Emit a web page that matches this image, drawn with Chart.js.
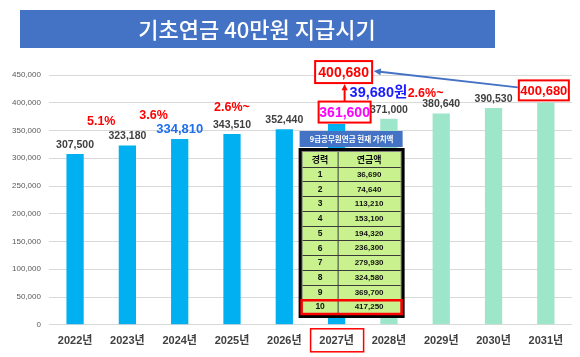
<!DOCTYPE html>
<html><head><meta charset="utf-8">
<script src="https://cdn.jsdelivr.net/npm/chart.js@4/dist/chart.umd.min.js"></script>
<style>html,body{margin:0;padding:0;background:#fff}#wrap{width:580px;height:357px;position:relative}</style>
</head><body><div id="wrap"><canvas id="c" width="580" height="357"></canvas></div>
<script>
// ---- data ----
const years = ['2022년','2023년','2024년','2025년','2026년','2027년','2028년','2029년','2030년','2031년'];
const amounts = [307500, 323180, 334810, 343510, 352440, 361600, 371000, 380640, 390530, 400680];
const rateLabels = ['5.1%', '3.6%', '2.6%~', '2.6%~'];
const targetAmount = 400680;
const gapLabel = '39,680원';
const tableTitle = '9급공무원연금 현재 가치액';
const tableHead = ['경력', '연금액'];
const careerYears = [1,2,3,4,5,6,7,8,9,10];
const careerPension = [36690, 74640, 113210, 153100, 194320, 236300, 279930, 324580, 369700, 417250];
const yTicks = [0,50000,100000,150000,200000,250000,300000,350000,400000,450000];

const fmt = v => v.toLocaleString('en-US');
const LAT = '"Liberation Sans", "Noto Sans CJK KR", sans-serif';
const KR = '"Noto Sans CJK KR", sans-serif';

// annotation placement (category index, value level)
const rateAnchors = [[0.5, 366000], [1.5, 377000], [3, 392000], [6.7, 417000]];

function arrow(ctx, x1, y1, x2, y2, color, w, head) {
  ctx.save();
  ctx.strokeStyle = color; ctx.fillStyle = color; ctx.lineWidth = w;
  const a = Math.atan2(y2 - y1, x2 - x1);
  ctx.beginPath(); ctx.moveTo(x1, y1); ctx.lineTo(x2 - Math.cos(a)*head*0.8, y2 - Math.sin(a)*head*0.8); ctx.stroke();
  ctx.beginPath();
  ctx.moveTo(x2, y2);
  ctx.lineTo(x2 - head*Math.cos(a - 0.45), y2 - head*Math.sin(a - 0.45));
  ctx.lineTo(x2 - head*Math.cos(a + 0.45), y2 - head*Math.sin(a + 0.45));
  ctx.closePath(); ctx.fill();
  ctx.restore();
}
function boxText(ctx, cx, cy, w, h, text, color, font, border) {
  ctx.save();
  ctx.fillStyle = '#fff';
  ctx.fillRect(cx - w/2, cy - h/2, w, h);
  ctx.strokeStyle = border; ctx.lineWidth = 2;
  ctx.strokeRect(cx - w/2, cy - h/2, w, h);
  ctx.fillStyle = color; ctx.font = font; ctx.textAlign = 'center'; ctx.textBaseline = 'middle';
  ctx.fillText(text, cx, cy + 1);
  ctx.restore();
}

const overlay = {
  id: 'overlay',
  beforeDraw(chart) {
    const ctx = chart.ctx;
    ctx.save();
    ctx.fillStyle = '#fff'; ctx.fillRect(0, 0, chart.width, chart.height);
    ctx.fillStyle = '#4472C4'; ctx.fillRect(20, 10, 475, 38);
    ctx.fillStyle = '#fff'; ctx.font = '500 22px ' + KR;
    ctx.textAlign = 'center'; ctx.textBaseline = 'middle';
    ctx.fillText('기초연금 40만원 지급시기', 257, 30);
    ctx.restore();
  },
  afterDatasetsDraw(chart) {
    const ctx = chart.ctx;
    const xs = chart.scales.x, ys = chart.scales.y;
    const X = i => xs.getPixelForValue(i);
    const Y = v => ys.getPixelForValue(v);
    ctx.save();

    // ---- table overlay ----
    const c5 = X(5);
    const tx0 = c5 - 38, tx1 = c5 + 68;
    const ty0 = 148, ty1 = 318;
    ctx.fillStyle = '#4472C4';
    ctx.fillRect(tx0 + 1, 131, tx1 - tx0 - 3, 16);
    ctx.fillStyle = '#fff'; ctx.font = 'bold 7.5px ' + KR;
    ctx.textAlign = 'center'; ctx.textBaseline = 'middle';
    ctx.fillText(tableTitle, (tx0 + tx1) / 2, 139.5);

    ctx.fillStyle = '#000';
    ctx.fillRect(tx0, ty0, tx1 - tx0, ty1 - ty0);
    ctx.fillStyle = '#7f7f7f';
    ctx.fillRect(tx0 + 3, ty0 + 3, tx1 - tx0 - 6, ty1 - ty0 - 6);
    const ix0 = tx0 + 4, ix1 = tx1 - 4, iy0 = ty0 + 4, iy1 = ty1 - 4;
    ctx.fillStyle = '#C9F28E';
    ctx.fillRect(ix0, iy0, ix1 - ix0, iy1 - iy0);
    const rows = careerYears.length + 1;
    const rh = (iy1 - iy0) / rows;
    const colX = ix0 + 35;
    ctx.strokeStyle = '#3a3a3a'; ctx.lineWidth = 1;
    for (let r = 1; r < rows; r++) {
      ctx.beginPath(); ctx.moveTo(ix0, Math.round(iy0 + r*rh) + 0.5); ctx.lineTo(ix1, Math.round(iy0 + r*rh) + 0.5); ctx.stroke();
    }
    ctx.beginPath(); ctx.moveTo(colX + 0.5, iy0); ctx.lineTo(colX + 0.5, iy1); ctx.stroke();
    ctx.fillStyle = '#111';
    ctx.font = 'bold 9px ' + KR;
    ctx.fillText(tableHead[0], (ix0 + colX) / 2, iy0 + rh/2 + 0.5);
    ctx.fillText(tableHead[1], (colX + ix1) / 2, iy0 + rh/2 + 0.5);
    for (let r = 0; r < careerYears.length; r++) {
      const cy = iy0 + (r + 1.5) * rh + 0.5;
      ctx.font = 'bold 8.5px ' + LAT;
      ctx.fillText(String(careerYears[r]), (ix0 + colX) / 2, cy);
      ctx.font = 'bold 8px ' + LAT;
      ctx.fillText(fmt(careerPension[r]), (colX + ix1) / 2, cy);
    }
    ctx.strokeStyle = '#FF0000'; ctx.lineWidth = 2.5;
    ctx.strokeRect(ix0 - 1, iy0 + (rows - 1) * rh + 1, ix1 - ix0 + 2, rh - 1);

    // ---- value labels ----
    ctx.textAlign = 'center'; ctx.textBaseline = 'middle';
    amounts.forEach((v, i) => {
      if (i === 5 || i === 9) return;
      if (i === 2) {
        ctx.fillStyle = '#1F6FEB'; ctx.font = 'bold 13px ' + LAT;
        ctx.fillText(fmt(v), X(i), Y(v) - 10);
      } else {
        ctx.fillStyle = '#404040'; ctx.font = 'bold 10.5px ' + LAT;
        ctx.fillText(fmt(v), X(i), Y(v) - 9);
      }
    });

    // ---- growth rates ----
    ctx.fillStyle = '#FF0000'; ctx.font = 'bold 12.5px ' + LAT;
    rateLabels.forEach((t, k) => {
      const [pos, lvl] = rateAnchors[k];
      ctx.fillText(t, xs.left + (pos + 0.5) * (xs.width / years.length), Y(lvl));
    });

    // ---- 2031 boxed value ----
    const y31 = Y(amounts[9]);
    boxText(ctx, X(9) - 2, y31 - 12, 50, 20, fmt(amounts[9]), '#FF0000', 'bold 13px ' + LAT, '#FF0000');

    // ---- 2027 annotations ----
    const y27 = Y(amounts[5]);
    const bx = c5 + 8;
    boxText(ctx, bx, y27 - 12, 52, 21, fmt(amounts[5]), '#FF00FF', 'bold 14px ' + LAT, '#FF0000');
    const topY = y27 - 52;
    boxText(ctx, bx - 1, topY, 57, 22, fmt(targetAmount), '#FF0000', 'bold 14px ' + LAT, '#FF0000');
    arrow(ctx, bx, y27 - 23, bx, topY + 12, '#FF0000', 2, 7);
    ctx.fillStyle = '#1a1aff'; ctx.font = 'bold 14.5px ' + LAT; ctx.textAlign = 'left';
    ctx.fillText(gapLabel, bx + 5, y27 - 31);
    arrow(ctx, X(9) - 28, y31 - 15, bx + 29, topY - 1, '#4472C4', 2, 8);

    // ---- 2027 x label box ----
    ctx.strokeStyle = '#FF0000'; ctx.lineWidth = 1.5;
    const cb = chart.chartArea.bottom;
    ctx.strokeRect(c5 - 26, cb + 4, 53, 23);
    ctx.restore();
  }
};

new Chart(document.getElementById('c'), {
  type: 'bar',
  data: {
    labels: years,
    datasets: [{
      data: amounts,
      backgroundColor: years.map((_, i) => i < 6 ? '#00B0F0' : '#9DE6CA'),
      barPercentage: 0.33,
      categoryPercentage: 1
    }]
  },
  options: {
    responsive: false, animation: false, devicePixelRatio: 1,
    layout: { padding: { left: 4, right: 8, top: 75, bottom: 7 } },
    plugins: { legend: { display: false }, tooltip: { enabled: false } },
    scales: {
      x: {
        grid: { display: false }, border: { display: false },
        ticks: { color: '#404040', font: { size: 11, weight: 'bold', family: LAT }, padding: 2 }
      },
      y: {
        min: 0, max: 450000,
        afterBuildTicks: s => { s.ticks = yTicks.map(v => ({ value: v })); },
        ticks: { color: '#595959', font: { size: 8, family: LAT }, padding: 8, callback: v => fmt(v) },
        grid: { color: '#D9D9D9', drawTicks: false }, border: { display: false }
      }
    }
  },
  plugins: [overlay]
});
</script></body></html>
